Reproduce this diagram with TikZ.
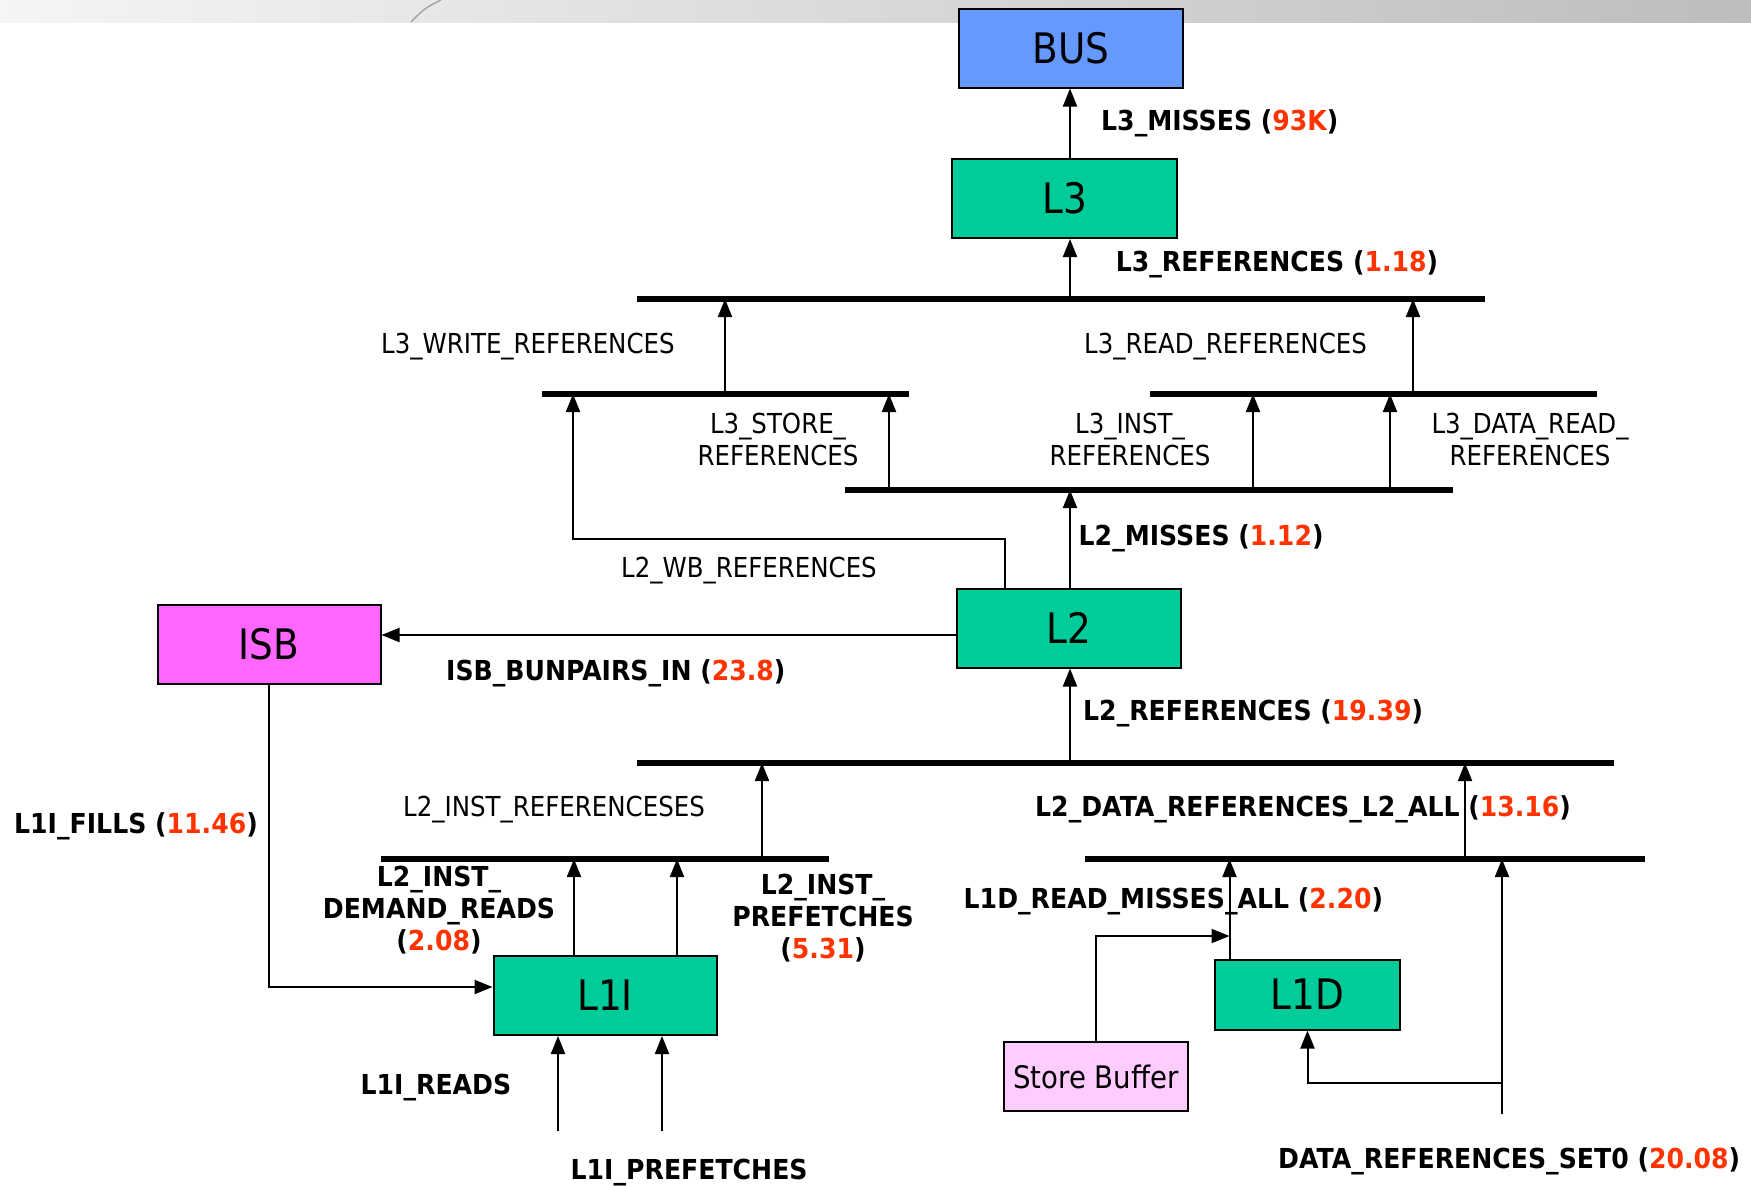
\documentclass[tikz,border=0pt]{standalone}
\usepackage{fontspec}
\setmainfont[FakeStretch=0.89,BoldFeatures={FakeStretch=0.915}]{DejaVu Sans}
\usetikzlibrary{arrows.meta}
\definecolor{busblue}{HTML}{6699FF}
\definecolor{cachegreen}{HTML}{00CC99}
\definecolor{isbpink}{HTML}{FF66FF}
\definecolor{sbpink}{HTML}{FFCCFF}
\definecolor{numred}{HTML}{FF3300}
\newcommand{\nm}[1]{\textcolor{numred}{#1}}
\begin{document}
\begin{tikzpicture}[x=1pt,y=-1pt,
  box/.style={draw=black, line width=2pt, inner sep=0pt, font=\fontsize{42}{48}\selectfont},
  busline/.style={line width=5.5pt},
  arr/.style={line width=2pt,-{Triangle[length=18pt,width=14pt]}},
  link/.style={line width=2pt},
  lbl/.style={inner sep=0pt, anchor=base west, font=\fontsize{27.5}{32}\selectfont},
  blbl/.style={inner sep=0pt, anchor=base west, font=\fontsize{27.5}{32}\selectfont\bfseries},
  mlbl/.style={inner sep=0pt, align=center, font=\fontsize{27.5}{32}\selectfont},
  mblbl/.style={inner sep=0pt, align=center, font=\fontsize{27.5}{32}\selectfont\bfseries},
]
\useasboundingbox (0,0) rectangle (1751,1186);
\fill[white] (0,0) rectangle (1751,1186);
\shade[left color=black!4, right color=black!26] (0,0) rectangle (1751,22);
\draw[black!35, line width=1.5pt] (441,0) .. controls (425,8) .. (411,22);

% boxes
\node[box, fill=busblue, minimum width=224pt, minimum height=79pt] (BUS) at (1071,48) {BUS};
\node[box, fill=cachegreen, minimum width=225pt, minimum height=79pt] (L3) at (1064.5,198.5) {L3};
\node[box, fill=cachegreen, minimum width=224pt, minimum height=79pt] (L2) at (1069,628) {L2};
\node[box, fill=isbpink, minimum width=223pt, minimum height=79pt] (ISB) at (269,644) {ISB};
\node[box, fill=cachegreen, minimum width=223pt, minimum height=79pt] (L1I) at (605,995.5) {L1I};
\node[box, fill=cachegreen, minimum width=185pt, minimum height=70pt] (L1D) at (1307.5,994.5) {L1D};
\node[box, fill=sbpink, minimum width=184pt, minimum height=69pt, font=\fontsize{31}{36}\selectfont] (SB) at (1096,1076.5) {Store Buffer};

% bus bars
\coordinate (b1w) at (637,299);  \coordinate (b1e) at (1485,299);
\coordinate (b2w) at (542,394);  \coordinate (b2e) at (909,394);
\coordinate (b3w) at (1150,394); \coordinate (b3e) at (1597,394);
\coordinate (b4w) at (845,490);  \coordinate (b4e) at (1453,490);
\coordinate (b5w) at (637,763);  \coordinate (b5e) at (1614,763);
\coordinate (b6w) at (381,859);  \coordinate (b6e) at (829,859);
\coordinate (b7w) at (1085,859); \coordinate (b7e) at (1645,859);
\foreach \b in {1,...,7} {\draw[busline] (b\b w) -- (b\b e);}

% x positions of connectors
\coordinate (xA) at (1070,0);
\coordinate (xWr) at (725,0);
\coordinate (xRd) at (1413,0);
\coordinate (xSt) at (889,0);
\coordinate (xIn) at (1253,0);
\coordinate (xDr) at (1390,0);
\coordinate (xWB) at (1005,0);
\coordinate (xWB2) at (573,0);
\coordinate (xL2I) at (762,0);
\coordinate (xL2D) at (1465,0);
\coordinate (xDm) at (574,0);
\coordinate (xPf) at (677,0);
\coordinate (xMs) at (1229.5,0);
\coordinate (wbY) at (0,539);
\coordinate (isbY) at (0,635);
\coordinate (fillY) at (0,987);
\coordinate (sbY) at (0,936);
\coordinate (brY) at (0,1083);
\coordinate (rd) at (558,1131);
\coordinate (pf) at (662,1131);
\coordinate (s0) at (1502,1114);

% labels
\node[blbl] (lL3M) at (1101,130.6) {L3\_MISSES (\nm{93K})};
\node[blbl] (lL3R) at (1115.6,271) {L3\_REFERENCES (\nm{1.18})};
\node[lbl] (lL3W) at (381,353) {L3\_WRITE\_REFERENCES};
\node[lbl] (lL3RR) at (1084,353) {L3\_READ\_REFERENCES};
\node[mlbl] (lL3S) at (778,439.5) {L3\_STORE\_\\REFERENCES};
\node[mlbl] (lL3I) at (1130,439.5) {L3\_INST\_\\REFERENCES};
\node[mlbl] (lL3D) at (1530,439.5) {L3\_DATA\_READ\_\\REFERENCES};
\node[blbl] (lL2M) at (1078.5,545) {L2\_MISSES (\nm{1.12})};
\node[lbl] (lWB) at (621,577) {L2\_WB\_REFERENCES};
\node[blbl] (lISB) at (446,680) {ISB\_BUNPAIRS\_IN (\nm{23.8})};
\node[blbl] (lL2R) at (1083,720) {L2\_REFERENCES (\nm{19.39})};
\node[lbl] (lL2I) at (403,816) {L2\_INST\_REFERENCESES};
\node[blbl] (lL2D) at (1035,816) {L2\_DATA\_REFERENCES\_L2\_ALL (\nm{13.16})};
\node[blbl] (lFill) at (14,833) {L1I\_FILLS (\nm{11.46})};
\node[mblbl] (lDem) at (439,910.5) {L2\_INST\_\\DEMAND\_READS\\(\nm{2.08})};
\node[mblbl] (lPre) at (823,918) {L2\_INST\_\\PREFETCHES\\(\nm{5.31})};
\node[blbl] (lMiss) at (963.5,908) {L1D\_READ\_MISSES\_ALL (\nm{2.20})};
\node[blbl] (lRd) at (360.5,1094) {L1I\_READS};
\node[blbl] (lPf) at (570.5,1179) {L1I\_PREFETCHES};
\node[blbl] (lSet) at (1278,1168) {DATA\_REFERENCES\_SET0 (\nm{20.08})};

% connectors
\draw[arr] (xA |- L3.north) -- (xA |- BUS.south);
\draw[arr] (xA |- b1w) -- (xA |- L3.south);
\draw[arr] (xWr |- b2w) -- (xWr |- b1w);
\draw[arr] (xRd |- b3w) -- (xRd |- b1w);
\draw[arr] (xSt |- b4w) -- (xSt |- b2w);
\draw[arr] (xIn |- b4w) -- (xIn |- b3w);
\draw[arr] (xDr |- b4w) -- (xDr |- b3w);
\draw[arr] (xA |- L2.north) -- (xA |- b4w);
\draw[arr] (xWB |- L2.north) -- (xWB |- wbY) -- (xWB2 |- wbY) -- (xWB2 |- b2w);
\draw[arr] (L2.west |- isbY) -- (ISB.east |- isbY);
\draw[arr] (xA |- b5w) -- (xA |- L2.south);
\draw[arr] (xL2I |- b6w) -- (xL2I |- b5w);
\draw[arr] (xL2D |- b7w) -- (xL2D |- b5w);
\draw[arr] (xDm |- L1I.north) -- (xDm |- b6w);
\draw[arr] (xPf |- L1I.north) -- (xPf |- b6w);
\draw[arr] (ISB.south) -- (ISB.south |- fillY) -- (L1I.west |- fillY);
\draw[arr] (rd) -- (rd |- L1I.south);
\draw[arr] (pf) -- (pf |- L1I.south);
\draw[arr] (xMs |- L1D.north) -- (xMs |- b7w);
\draw[arr] (SB.north) -- (SB.north |- sbY) -- (xMs |- sbY);
\draw[arr] (s0) -- (s0 |- b7w);
\draw[arr] (s0 |- brY) -- (L1D.south |- brY) -- (L1D.south);
\end{tikzpicture}
\end{document}
